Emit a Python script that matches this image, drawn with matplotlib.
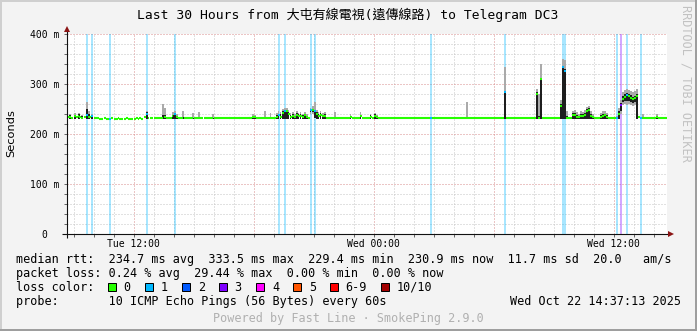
import matplotlib
matplotlib.use("Agg")
import matplotlib.pyplot as plt
import numpy as np
from matplotlib.patches import Rectangle
from matplotlib.ticker import FixedLocator

# ---------------- data ----------------
start_hour = 8.7      # first sample: Tue 08:42 (hours since Tue 00:00)
step_hours = 0.1      # 6 minute samples
x_range = [8.65, 38.65]

median_ms = [
    233, 234, 232, 235, 233, 236, 233, 232, 234, 238, 234, 233, 236, 232, 231, 231, 230, 230, 231, 230,
    230, 230, 231, 230, 230, 231, 230, 230, 230, 231, 230, 230, 230, 230, 231, 230, 231, 230, 233, 240,
    232, 231, 231, 232, 231, 231, 231, 232, 233, 232, 231, 231, 236, 240, 234, 232, 231, 231, 232, 231,
    231, 232, 231, 231, 231, 232, 231, 231, 231, 232, 231, 232, 231, 231, 231, 231, 232, 231, 231, 231,
    231, 231, 232, 231, 231, 231, 231, 232, 231, 231, 231, 232, 234, 233, 232, 231, 231, 232, 231, 231,
    232, 231, 231, 232, 233, 237, 234, 241, 245, 246, 240, 234, 236, 233, 237, 235, 236, 234, 237, 234,
    232, 247, 247, 246, 240, 236, 238, 235, 236, 232, 231, 231, 231, 231, 232, 231, 231, 231, 231, 232,
    231, 234, 232, 231, 231, 231, 235, 232, 231, 231, 231, 234, 232, 236, 233, 232, 231, 231, 232, 231,
    231, 231, 232, 231, 231, 231, 231, 232, 231, 231, 231, 231, 232, 231, 231, 231, 231, 232, 231, 231,
    231, 231, 232, 231, 231, 231, 232, 231, 231, 231, 231, 232, 231, 231, 231, 231, 232, 231, 231, 231,
    232, 231, 231, 231, 231, 232, 231, 231, 231, 232, 231, 231, 231, 231, 232, 231, 231, 231, 283, 232,
    231, 231, 232, 231, 231, 231, 231, 232, 231, 231, 231, 232, 231, 231, 280, 232, 310, 232, 231, 231,
    231, 232, 231, 231, 231, 231, 255, 333.5, 325, 232, 231, 232, 237, 238, 234, 233, 236, 235, 237, 245,
    248, 236, 233, 232, 231, 232, 234, 236, 237, 234, 232, 231, 232, 231, 232, 240, 257, 270, 274, 277,
    275, 272, 269, 271, 275, 233, 231, 231, 232, 231, 231, 231, 232, 231, 234, 231, 231, 232, 231, 231,
]

loss_idx   = [9, 12, 21, 39, 53, 105, 108, 121, 123, 181, 218, 247, 248, 274, 276, 279, 286]
loss_count = [1, 1, 1, 1, 1, 1, 1, 1, 1, 1, 1, 1, 1, 1, 3, 1, 1]

smoke_idx = [1, 3, 5, 7, 9, 10, 12, 39, 47, 48, 52, 53, 54, 57, 62, 65, 72, 92, 93, 98, 101,
             104, 105, 106, 107, 108, 109, 110, 111, 112, 113, 114, 115, 116, 117, 118, 119,
             121, 122, 123, 124, 125, 126, 127, 128, 133, 141, 146, 151, 153, 154, 199,
             218, 234, 235, 236, 246, 247, 248, 249, 252, 253, 254, 255, 256, 257, 258, 259,
             260, 261, 262, 266, 267, 268, 269, 274, 275, 276, 277, 278, 279, 280, 281, 282,
             283, 284, 287, 294]
gray_lo = [229, 229, 229, 229, 229, 229, 229, 229, 229, 229, 229, 229, 229, 229, 229, 229, 229, 229, 229, 229, 229,
           229, 229, 229, 229, 229, 229, 229, 229, 229, 229, 229, 229, 229, 229, 229, 229,
           240, 240, 232, 229, 229, 229, 229, 229, 229, 229, 229, 229, 229, 229, 229,
           229, 229, 229, 229, 229, 229, 229, 229, 229, 229, 229, 229, 229, 229, 229, 229,
           229, 229, 229, 229, 229, 229, 229, 229, 229, 240, 258, 260, 258, 259, 257, 256,
           258, 229, 229, 229]
gray_hi = [240, 241, 242, 238, 263, 245, 240, 246, 260, 252, 243, 246, 240, 245, 241, 244, 240, 240, 238, 245, 241,
           242, 246, 244, 250, 252, 251, 247, 242, 244, 240, 245, 242, 244, 240, 243, 240,
           252, 256, 263, 248, 244, 246, 242, 243, 244, 240, 244, 240, 242, 238, 264,
           333, 290, 280, 340, 268, 350, 348, 245, 246, 248, 243, 240, 245, 244, 248, 254,
           256, 246, 240, 242, 246, 245, 242, 236, 252, 268, 284, 287, 290, 288, 285, 284,
           286, 289, 240, 240]
dark_lo = [229, 229, 229, 229, 229, 229, 229, 229, 229, 229, 229, 229, 229, 229, 229, 229, 229, 229, 229, 229, 229,
           229, 229, 229, 229, 229, 229, 229, 229, 229, 229, 229, 229, 229, 229, 229, 229,
           244, 244, 232, 229, 229, 229, 229, 229, 229, 229, 229, 229, 229, 229, 229,
           229, 229, 229, 229, 229, 229, 229, 229, 229, 229, 229, 229, 229, 229, 229, 229,
           229, 229, 229, 229, 229, 229, 229, 229, 229, 245, 263, 265, 266, 265, 263, 262,
           264, 229, 229, 229]
dark_hi = [237, 238, 239, 236, 250, 240, 237, 243, 238, 237, 238, 241, 236, 233, 232, 233, 232, 235, 234, 233, 233,
           238, 240, 239, 246, 248, 248, 244, 238, 240, 236, 241, 239, 240, 237, 240, 236,
           249, 249, 248, 244, 240, 242, 238, 239, 233, 236, 238, 237, 239, 236, 233,
           283, 283, 235, 310, 260, 333, 330, 235, 241, 242, 238, 236, 240, 239, 241, 249,
           251, 240, 236, 238, 240, 240, 237, 233, 245, 262, 276, 279, 281, 279, 277, 274,
           276, 280, 233, 235]

y_ticks = [0, 100, 200, 300, 400]
y_tick_labels = ["0  ", "100 m", "200 m", "300 m", "400 m"]
x_major_hours = [12, 18, 24, 30, 36]
x_major_labels = ["Tue 12:00", "", "Wed 00:00", "", "Wed 12:00"]

loss_legend_labels = ["0", "1", "2", "3", "4", "5", "6-9", "10/10"]
loss_legend_colors = ["#26ff00", "#00b8ff", "#0059ff", "#7e00ff",
                      "#ff00ff", "#ff5500", "#ff0000", "#a10000"]

title = "Last 30 Hours from 大屯有線電視(遠傳線路) to Telegram DC3"
rtt_line = "median rtt:  234.7 ms avg  333.5 ms max  229.4 ms min  230.9 ms now  11.7 ms sd  20.0   am/s"
loss_line = "packet loss: 0.24 % avg  29.44 % max  0.00 % min  0.00 % now"
color_label = "loss color:"
probe_line = "probe:       10 ICMP Echo Pings (56 Bytes) every 60s"
stamp_text = "Wed Oct 22 14:37:13 2025"
powered_text = "Powered by Fast Line · SmokePing 2.9.0"
watermark = "RRDTOOL / TOBI OETIKER"
y_unit = "Seconds"

# ---------------- drawing ----------------
W, H = 697, 331
MONO = "DejaVu Sans Mono"
LEG = 8.45
fig = plt.figure(figsize=(W / 100, H / 100), dpi=100, facecolor="#f3f3f3")
ax = fig.add_axes([66.5 / W, (H - 233.5) / H, 600 / W, 200 / H])
ax.set_facecolor("white")
ax.set_xlim(*x_range)
ax.set_ylim(0, 400)
for s in ax.spines.values():
    s.set_visible(False)

t = start_hour + step_hours * np.arange(len(median_ms))
med = np.array(median_ms, dtype=float)

# grid
ax.xaxis.set_major_locator(FixedLocator(x_major_hours))
ax.xaxis.set_minor_locator(FixedLocator([h for h in range(9, 39) if h not in x_major_hours]))
ax.yaxis.set_major_locator(FixedLocator(y_ticks))
ax.yaxis.set_minor_locator(FixedLocator([v for v in range(20, 400, 20) if v not in y_ticks]))
ax.set_xticklabels(x_major_labels, fontsize=7, family=MONO)
ax.set_yticklabels(y_tick_labels, fontsize=7, family=MONO)
ax.grid(which="minor", color="#c4c4c4", linestyle=(0, (1, 2)), linewidth=0.72, zorder=0)
ax.grid(which="major", color="#d98c8c", linestyle=(0, (1, 2)), linewidth=0.72, zorder=0)
ax.set_axisbelow(True)
ax.tick_params(which="both", direction="out", length=2, width=0.7, color="#666666")
ax.tick_params(axis="y", pad=3.2)
ax.tick_params(axis="x", pad=2.2)

# loss background bars
level_of = {0: 0, 1: 1, 2: 2, 3: 3, 4: 4, 5: 5, 6: 6, 7: 6, 8: 6, 9: 6, 10: 7}
for idx, cnt in zip(loss_idx, loss_count):
    ax.axvspan(t[idx], t[idx] + step_hours, color=loss_legend_colors[level_of[cnt]],
               alpha=0.34, lw=0, zorder=1)

# smoke
si = np.array(smoke_idx)
glo, ghi = np.array(gray_lo, float), np.array(gray_hi, float)
dlo, dhi = np.array(dark_lo, float), np.array(dark_hi, float)
ax.bar(t[si], ghi - glo, bottom=glo, width=step_hours, align="edge",
       color="#aaaaaa", lw=0, zorder=2)
ax.bar(t[si], dhi - dlo, bottom=dlo, width=step_hours, align="edge",
       color="#1e1e1e", lw=0, zorder=3)

# median coloured by loss
loss_per_sample = np.zeros(len(med), dtype=int)
for idx, cnt in zip(loss_idx, loss_count):
    loss_per_sample[idx] = cnt
cols = [loss_legend_colors[level_of[c]] for c in loss_per_sample]
lc = ax.hlines(med, t, t + step_hours, colors=cols, linewidth=1.5, zorder=4)
lc.set_capstyle("butt")

# axis lines with arrows
ax.plot([0, 0], [-0.02, 1.015], transform=ax.transAxes, color="#111111", lw=0.8,
        clip_on=False, zorder=6, solid_capstyle="butt")
ax.plot([-0.007, 1.004], [0, 0], transform=ax.transAxes, color="#111111", lw=0.8,
        clip_on=False, zorder=6, solid_capstyle="butt")
ax.plot([0], [1.024], marker="^", ms=4.6, color="#8b1414", transform=ax.transAxes,
        clip_on=False, zorder=7, mew=0)
ax.plot([1.0075], [0], marker=">", ms=4.6, color="#8b1414", transform=ax.transAxes,
        clip_on=False, zorder=7, mew=0)

# texts
def ftext(x, y, s, **kw):
    kw.setdefault("fontsize", LEG)
    kw.setdefault("family", MONO)
    kw.setdefault("va", "center")
    kw.setdefault("ha", "left")
    return fig.text(x / W, 1 - y / H, s, **kw)

ftext(347.5, 15, title, fontsize=9.4, ha="center",
      family=[MONO, "Noto Sans CJK TC"])
ftext(11, 133, y_unit, rotation=90, ha="center", family="DejaVu Sans", fontsize=8.2)
ftext(686, 5, watermark, rotation=-90, ha="center", va="top", color="#c2c2c2")

ftext(15.6, 259.3, rtt_line)
ftext(15.6, 273.3, loss_line)
ftext(15.6, 287.3, color_label)
box_x = [108, 145.3, 182.2, 219, 256.4, 293.3, 330, 381.3]
for bx, lab, col in zip(box_x, loss_legend_labels, loss_legend_colors):
    fig.add_artist(Rectangle((bx / W, 1 - 291.3 / H), 8 / W, 8 / H,
                             transform=fig.transFigure, facecolor=col,
                             edgecolor="black", lw=0.72))
    ftext(bx + 15.6, 287.3, lab)
ftext(15.6, 301.7, probe_line)
ftext(680.5, 301.7, stamp_text, ha="right")
ftext(348, 318.3, powered_text, ha="center", color="#b0b0b0")

# frame
fig.add_artist(Rectangle((0, 1 - 2 / H), 1, 2 / H, transform=fig.transFigure,
                         facecolor="#cfcfcf", lw=0))
fig.add_artist(Rectangle((0, 0), 2 / W, 1, transform=fig.transFigure,
                         facecolor="#cfcfcf", lw=0))
fig.add_artist(Rectangle((0, 0), 1, 2 / H, transform=fig.transFigure,
                         facecolor="#9e9e9e", lw=0))
fig.add_artist(Rectangle((1 - 2 / W, 0), 2 / W, 1, transform=fig.transFigure,
                         facecolor="#9e9e9e", lw=0))

fig.savefig("out.png", dpi=100, facecolor=fig.get_facecolor())
